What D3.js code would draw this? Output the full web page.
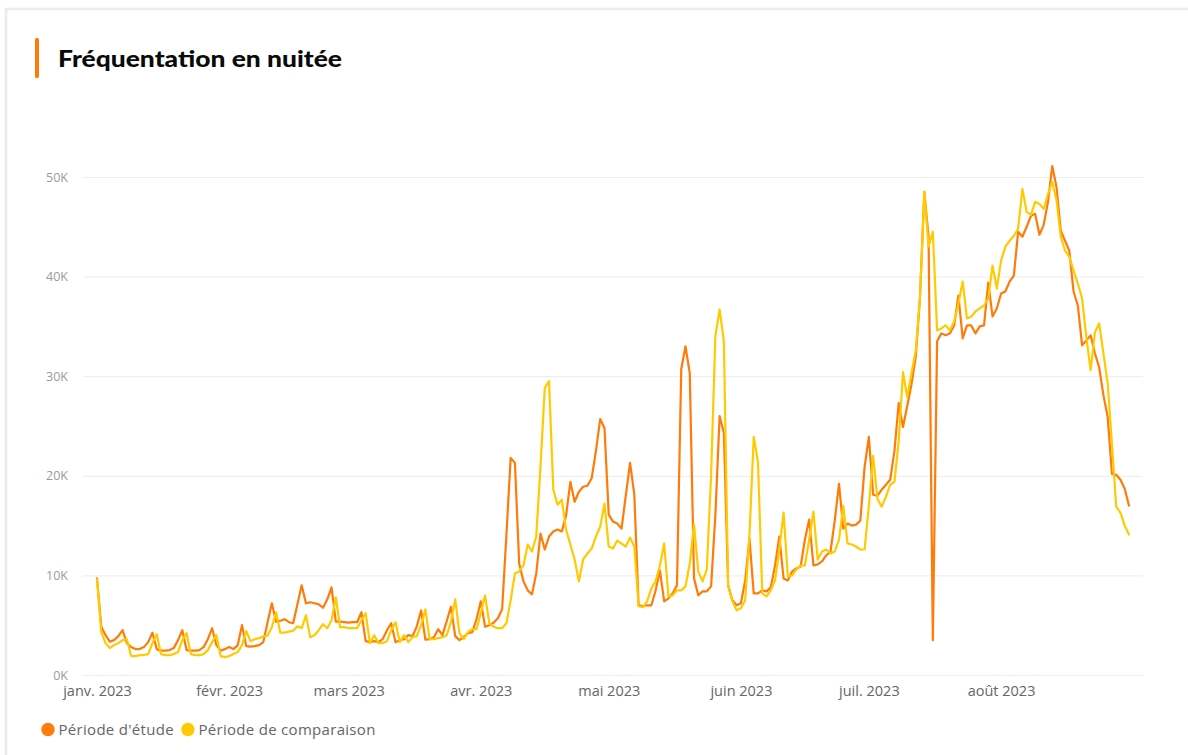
<!DOCTYPE html>
<html><head><meta charset="utf-8">
<script src="https://cdn.jsdelivr.net/npm/d3@7"></script>
<style>
html,body{margin:0;padding:0;background:#fff;}
svg{display:block;}
</style></head>
<body>
<svg id="chart" width="1188" height="755"></svg>
<script>
// ---------- DATA ----------
const startDate = new Date(2023, 0, 1);
const endDate = new Date(2023, 7, 31);
const monthLabels = ["janv. 2023","févr. 2023","mars 2023","avr. 2023","mai 2023","juin 2023","juil. 2023","août 2023"];
const yTicks = [0, 10000, 20000, 30000, 40000, 50000];
const seriesNames = ["Période d'étude", "Période de comparaison"];
const title = "Fréquentation en nuitée";

// daily values, in thousands (Jan 1 -> Aug 31)
const etude = [
// janv.
9.7,4.85,4.0,3.35,3.5,3.9,4.5,3.2,2.8,2.6,2.6,2.8,3.3,4.25,2.6,2.45,2.45,2.5,2.7,3.5,4.5,2.5,2.45,2.45,2.5,2.8,3.6,4.7,3.0,2.45,2.6,
// févr.
2.8,2.6,3.0,5.0,2.9,2.85,2.9,3.0,3.3,5.3,7.2,5.35,5.45,5.6,5.3,5.2,7.1,9.0,7.2,7.3,7.2,7.1,6.75,7.6,8.8,5.35,5.35,5.3,
// mars
5.25,5.3,5.3,6.3,3.4,3.3,3.4,3.3,3.6,4.5,5.2,3.3,3.5,3.6,4.0,3.9,4.9,6.5,3.55,3.6,3.8,4.6,4.0,5.4,6.85,3.9,3.5,3.8,4.2,4.3,5.6,
// avr.
7.4,4.85,5.0,5.25,5.7,6.6,14.0,21.8,21.3,11.2,9.4,8.5,8.1,10.2,14.2,12.6,13.9,14.4,14.6,14.4,16.0,19.4,17.4,18.4,18.9,19.0,19.75,22.5,25.7,24.8,
// mai
16.1,15.4,15.2,14.7,18.0,21.3,18.1,7.0,6.9,7.0,7.0,8.5,10.5,7.4,7.7,8.2,9.0,30.7,33.0,30.3,9.7,8.0,8.4,8.4,8.9,16.0,26.0,24.3,9.0,7.5,7.0,
// juin
7.2,9.5,13.7,8.2,8.2,8.5,8.4,8.8,11.0,13.9,9.7,9.5,10.4,10.7,10.9,13.6,15.6,11.0,11.1,11.4,12.0,12.4,15.5,19.2,14.7,15.2,15.0,15.1,15.5,20.9,
// juil.
23.9,18.1,18.0,18.6,19.1,19.6,22.5,27.3,24.9,27.0,29.2,32.0,38.0,48.5,44.0,3.5,33.5,34.3,34.1,34.3,35.1,38.1,33.8,35.1,35.1,34.3,35.0,35.1,39.4,36.0,36.8,
// août
38.3,38.5,39.5,40.1,44.5,44.0,45.0,46.1,46.3,44.2,45.2,47.5,51.1,49.0,44.6,43.6,42.6,38.5,37.1,33.1,33.6,34.1,32.3,30.9,28.1,25.9,20.2,20.1,19.6,18.7,17.0
];
const comparaison = [
// janv.
9.6,4.3,3.2,2.7,3.0,3.2,3.5,3.6,1.9,1.9,2.0,2.0,2.1,3.2,4.1,2.1,2.0,2.0,2.1,2.3,3.5,4.2,2.1,2.0,2.0,2.1,2.5,3.3,4.0,1.9,1.8,
// févr.
1.9,2.1,2.3,3.0,4.4,3.4,3.6,3.7,3.9,3.95,4.8,6.3,4.25,4.25,4.35,4.45,4.9,4.7,6.0,3.8,4.0,4.5,5.1,4.7,5.5,7.8,4.8,4.8,
// mars
4.7,4.7,4.7,5.5,6.2,3.2,4.0,3.2,3.2,3.4,4.5,5.3,3.3,4.0,3.3,3.8,3.9,5.0,6.6,3.6,3.6,3.7,3.8,4.0,5.3,7.6,4.2,3.6,4.3,4.6,4.6,
// avr.
6.2,8.0,5.2,4.85,4.7,4.7,5.2,7.5,10.2,10.4,11.0,13.1,12.4,13.9,21.0,28.8,29.5,18.6,17.1,17.6,14.6,13.1,11.6,9.4,11.6,12.2,12.7,13.9,14.9,17.2,
// mai
12.9,12.7,13.5,13.2,12.9,13.8,12.9,6.9,6.8,7.4,8.7,9.4,11.0,13.2,7.9,8.0,8.5,8.5,8.9,11.2,15.1,10.4,9.4,10.6,20.0,34.0,36.7,33.5,9.0,7.4,6.5,
// juin
6.7,7.5,14.0,23.9,21.4,8.2,7.9,8.5,9.5,12.6,16.3,9.9,10.0,10.6,11.0,11.0,13.6,16.4,11.6,12.4,12.6,12.2,12.4,13.6,17.0,13.2,13.1,12.9,12.6,12.6,
// juil.
17.0,22.0,17.7,16.9,17.9,19.1,19.4,23.5,30.4,27.9,30.3,32.6,38.0,48.5,43.0,44.5,34.6,34.8,35.1,34.6,35.5,37.3,39.5,35.8,36.0,36.5,36.8,37.1,37.8,41.1,38.8,
// août
41.6,43.0,43.6,44.1,44.8,48.8,46.5,46.2,47.5,47.3,46.8,48.3,49.5,47.7,44.0,42.6,42.0,40.6,39.3,37.8,33.9,30.6,34.4,35.3,32.3,29.3,23.2,16.9,16.3,15.0,14.1
];
const colors = ["#FF7B0A", "#FFCB00"];

// ---------- CHART ----------
const svg = d3.select("#chart");
const dates = d3.timeDay.range(startDate, d3.timeDay.offset(endDate, 1));

// card
svg.append("rect").attr("x", 6).attr("y", 9).attr("width", 1200).attr("height", 800)
  .attr("fill", "#fff").attr("stroke", "#ebebeb").attr("stroke-width", 2.5);

// title
svg.append("rect").attr("x", 35).attr("y", 38).attr("width", 4).attr("height", 40)
  .attr("rx", 1.5).attr("fill", colors[0]);
svg.append("text").attr("x", 58).attr("y", 67)
  .attr("font-family", "Lato, 'Open Sans', sans-serif").attr("font-weight", 900)
  .attr("font-size", 23.5).attr("fill", "#0a0a0a")
  .attr("textLength", 284).attr("lengthAdjust", "spacingAndGlyphs")
  .text(title);

const x = d3.scaleTime().domain([startDate, endDate]).range([97, 1129]);
const y = d3.scaleLinear().domain([0, 50000]).range([675, 177]);
const gridLeft = 83, gridRight = 1143;

// y axis + grid
const yAxis = svg.append("g").attr("transform", `translate(${gridLeft},0)`)
  .call(d3.axisLeft(y).tickValues(yTicks).tickFormat(d => (d / 1000) + "K")
    .tickSize(-(gridRight - gridLeft)).tickPadding(15));
yAxis.select(".domain").remove();
yAxis.selectAll(".tick line").attr("stroke", "#ececec").attr("stroke-width", 1);
yAxis.selectAll(".tick text").attr("fill", "#9a9a9a")
  .attr("font-family", "'Open Sans', sans-serif").attr("font-size", 12.5);

// x axis
const monthStarts = d3.timeMonth.range(startDate, d3.timeDay.offset(endDate, 1));
const xAxis = svg.append("g").attr("transform", "translate(0,675)")
  .call(d3.axisBottom(x).tickValues(monthStarts).tickFormat((d, i) => monthLabels[i])
    .tickSize(0).tickPadding(11));
xAxis.select(".domain").remove();
xAxis.selectAll(".tick text").attr("fill", "#666")
  .attr("font-family", "'Open Sans', sans-serif").attr("font-size", 14.5);

// lines
const line = d3.line().x((d, i) => x(dates[i])).y(d => y(d * 1000));
[etude, comparaison].forEach((s, k) => {
  svg.append("path").datum(s).attr("d", line)
    .attr("fill", "none").attr("stroke", colors[k]).attr("stroke-width", 2.2)
    .attr("stroke-linejoin", "round").attr("stroke-linecap", "round");
});

// legend
const leg = svg.append("g");
let lx = 48;
seriesNames.forEach((n, k) => {
  leg.append("circle").attr("cx", lx).attr("cy", 729.5).attr("r", 6.7).attr("fill", colors[k]);
  const t = leg.append("text").attr("x", lx + 10.5).attr("y", 735)
    .attr("font-family", "'Open Sans', sans-serif").attr("font-size", 15)
    .attr("letter-spacing", 0.3).attr("fill", "#666")
    .text(n);
  lx = lx + 10.5 + t.node().getComputedTextLength() + 14;
});
</script>
</body></html>
